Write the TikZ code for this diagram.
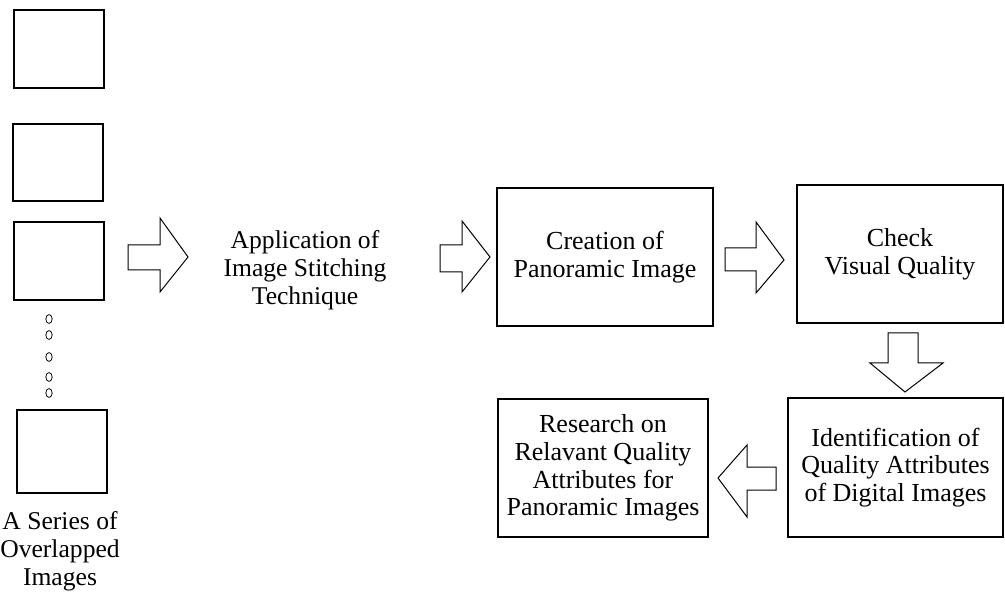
\documentclass[tikz,border=0pt]{standalone}
\usepackage{fontspec}
\setmainfont{Liberation Serif}
\usetikzlibrary{calc}

\begin{document}
\begin{tikzpicture}[x=0.5pt, y=-0.5pt,
    box/.style={draw, line width=0.65pt, inner sep=0pt, align=center,
                font=\fontsize{13}{13.9}\selectfont},
    imgbox/.style={draw, line width=0.65pt, minimum width=45pt, inner sep=0pt},
    blockarrow/.style={draw, line width=0.5pt, line join=miter},
    txt/.style={align=center, font=\fontsize{12.8}{13.9}\selectfont}]

    \useasboundingbox (0,0) rectangle (1005,592);

    % Series of overlapped images (left column)
    \node[imgbox, minimum height=39pt] (img1) at (59,49) {};
    \node[imgbox, minimum height=38.5pt] (img2) at (58,162.5) {};
    \node[imgbox, minimum height=39pt] (img3) at (59,261) {};
    \node[imgbox, minimum height=41.5pt] (img4) at (62,451.5) {};

    % Dots between the images
    \foreach \y in {319,335,357,377,393}
        \draw[line width=0.4pt] (49,\y) ellipse (1.6pt and 2.2pt);

    \node[txt] (serieslabel) at (60,551) {A Series of\\Overlapped\\Images};

    % Stitching step (text only)
    \node[txt] (stitch) at (305,270) {Application of\\Image Stitching\\Technique};

    % Process boxes
    \node[box, minimum width=108pt, minimum height=69pt] (creation) at (605,257)
        {Creation of\\Panoramic Image};
    \node[box, minimum width=103pt, minimum height=69pt] (check) at (900,254)
        {Check\\Visual Quality};
    \node[box, minimum width=107.5pt, minimum height=69.5pt] (ident) at (895.5,467.5)
        {Identification of\\Quality Attributes\\of Digital Images};
    \node[box, minimum width=105pt, minimum height=69pt] (research) at (603,468)
        {Research on\\Relavant Quality\\Attributes for\\Panoramic Images};

    % Block arrows
    % images -> stitching
    \draw[blockarrow] (128,245) -- (160,245) -- (160,218) -- (188,257)
        -- (160,292) -- (160,270) -- (128,270) -- cycle;
    % stitching -> creation
    \draw[blockarrow] (440,245) -- (462,245) -- (462,221) -- (490,257)
        -- (462,292) -- (462,272) -- (440,272) -- cycle;
    % creation -> check
    \draw[blockarrow] (725,248) -- (756,248) -- (756,222) -- (784,260)
        -- (756,293) -- (756,271) -- (725,271) -- cycle;
    % check -> identification (down)
    \draw[blockarrow] (888,333) -- (918,333) -- (918,363) -- (943,363)
        -- (905,392) -- (870,363) -- (888,363) -- cycle;
    % identification -> research (left)
    \draw[blockarrow] (776,467) -- (747,467) -- (747,445) -- (718,478)
        -- (747,517) -- (747,490) -- (776,490) -- cycle;

\end{tikzpicture}
\end{document}
